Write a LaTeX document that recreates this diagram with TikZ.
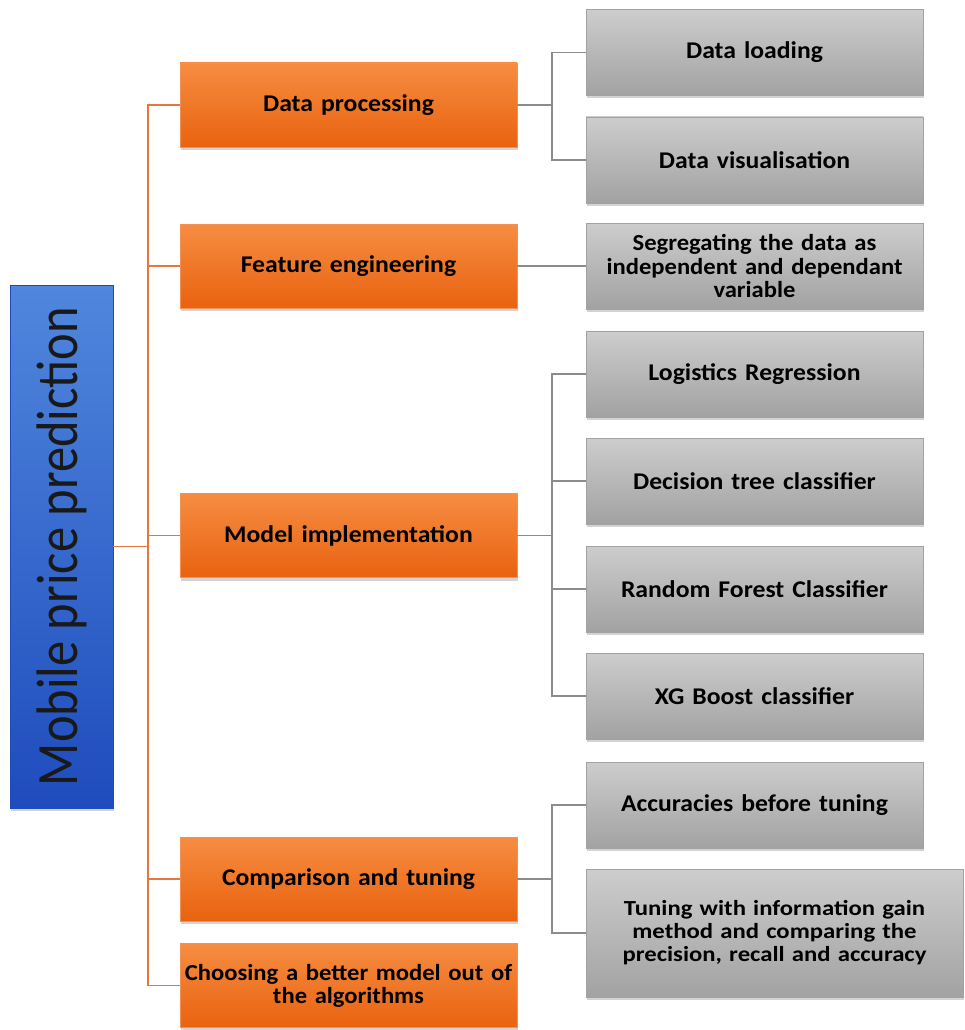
\documentclass[tikz,border=0pt]{standalone}
\usepackage{fontspec}
\setmainfont{Carlito}
\newfontfamily\boxfont[FakeStretch=1.07]{Carlito}
\newfontfamily\boxfontw[FakeStretch=1.15]{Carlito}
\usetikzlibrary{shadows}
\definecolor{orTop}{HTML}{F68D42}
\definecolor{orBot}{HTML}{E9620F}
\definecolor{grTop}{HTML}{CDCDCD}
\definecolor{grBot}{HTML}{A2A2A2}
\definecolor{blTop}{HTML}{5087DD}
\definecolor{blBot}{HTML}{1E4CBD}
\definecolor{oLine}{HTML}{E8763C}
\definecolor{gLine}{HTML}{8C8C8C}
\begin{document}
\begin{tikzpicture}[x=1pt,y=-1pt,
  base/.style={inner sep=2pt, outer sep=0pt, align=center, text=black,
    font=\boxfont\bfseries\fontsize{24}{23}\selectfont,
    drop shadow={shadow xshift=1pt, shadow yshift=-3pt, opacity=0.35}},
  obox/.style={base, top color=orTop, bottom color=orBot, draw=orBot!70!white, line width=0.4pt,
    minimum width=337pt, minimum height=84pt, text width=333pt},
  gbox/.style={base, top color=grTop, bottom color=grBot, draw=grBot, line width=0.4pt,
    minimum width=337pt, minimum height=86pt, text width=330pt},
  bbox/.style={inner sep=0pt, outer sep=0pt, top color=blTop, bottom color=blBot, draw=blBot, line width=0.4pt,
    minimum width=103pt, minimum height=523pt, font=\fontsize{50.5}{56}\selectfont, text=black!90,
    drop shadow={shadow xshift=1pt, shadow yshift=-3pt, opacity=0.35}},
  oline/.style={draw=oLine, line width=1.5pt},
  gline/.style={draw=gLine, line width=1.2pt}]
\useasboundingbox (0,0) rectangle (964,1030);
% root
\node[bbox] (root) at (61.5,546.5) {\rotatebox{90}{\scalebox{1}[1.16]{Mobile price prediction}}};
% level 1
\node[obox] (dp) at (348.5,105) {Data processing};
\node[obox] (fe) at (348.5,266) {Feature engineering};
\node[obox] (mi) at (348.5,535.5) {Model implementation};
\node[obox] (ct) at (348.5,879) {Comparison and tuning};
\node[obox, inner xsep=0pt, text width=337pt, font=\boxfont\bfseries\fontsize{23}{23}\selectfont] (ch) at (348.5,985.5) {Choosing a better model out of\\the algorithms};
% level 2
\node[gbox] (dl) at (754.5,52.5) {Data loading};
\node[gbox] (dv) at (754.5,160) {Data visualisation};
\node[gbox, font=\boxfont\bfseries\fontsize{23}{23.5}\selectfont] (sg) at (754.5,266) {Segregating the data as\\independent and dependant\\variable};
\node[gbox] (lr) at (754.5,374) {Logistics Regression};
\node[gbox] (dt) at (754.5,481) {Decision tree classifier};
\node[gbox] (rf) at (754.5,589) {Random Forest Classifier};
\node[gbox] (xg) at (754.5,696) {XG Boost classifier};
\node[gbox] (ac) at (754.5,805) {Accuracies before tuning};
\node[gbox, minimum width=377pt, minimum height=128pt, text width=370pt, font=\boxfontw\bfseries\fontsize{21.5}{23}\selectfont] (tu) at (774.5,933) {Tuning with information gain\\method and comparing the\\precision, recall and accuracy};
% orange connectors
\draw[oline] (root.east) -- ++(35,0);
\draw[oline] (dp.west) -- ++(-32,0) |- (ch.west);
\foreach \n in {fe,mi,ct} \draw[oline] (\n.west) -- ++(-32,0);
% gray connectors
\draw[gline] (dp.east) -- ++(35,0) coordinate (j1);
\draw[gline] (dl.west) -| (j1) |- (dv.west);
\draw[gline] (fe.east) -- (sg.west);
\draw[gline] (mi.east) -- ++(35,0) coordinate (j2);
\draw[gline] (lr.west) -| (j2) |- (xg.west);
\draw[gline] (dt.west) -- (dt.west -| j2);
\draw[gline] (rf.west) -- (rf.west -| j2);
\draw[gline] (ct.east) -- ++(35,0) coordinate (j3);
\draw[gline] (ac.west) -| (j3) |- (tu.west);
\end{tikzpicture}
\end{document}
